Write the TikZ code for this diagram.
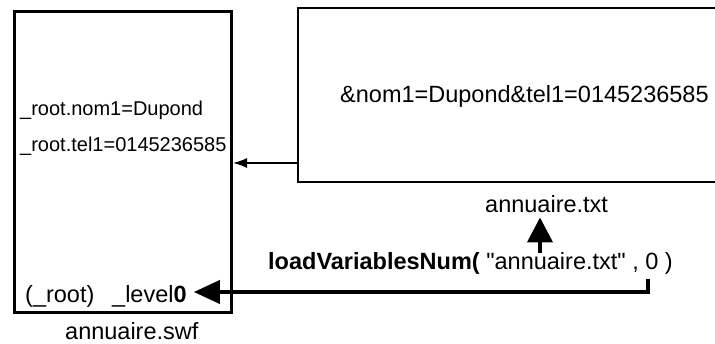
\documentclass[tikz,border=0pt]{standalone}
\usepackage{fontspec}
\setmainfont{Liberation Sans}[Ligatures=TeXOff]
\usetikzlibrary{arrows.meta,calc}
\begin{document}
\begin{tikzpicture}[x=1pt,y=-1pt,
  lbl/.style={inner sep=0pt, anchor=base west, font=\fontsize{23.5}{28}\selectfont},
  smalllbl/.style={inner sep=0pt, anchor=base west, font=\fontsize{20}{24}\selectfont},
  boxnode/.style={draw, inner sep=0pt},
  thinarrow/.style={line width=1.5pt, -{Latex[length=14pt,width=10pt]}},
  thickarrow/.style={line width=4pt}]
\clip (0,0) rectangle (715,344);
\fill[white] (0,0) rectangle (715,344);
% boxes
\node[boxnode, line width=3pt, minimum width=217pt, minimum height=301pt] (swf) at (123,162) {};
\node[boxnode, line width=2pt, minimum width=462pt, minimum height=174pt] (txt) at (528.5,95.5) {};
% texts
\node[smalllbl] (nom) at (20,116) {\_root.nom1=Dupond};
\node[smalllbl] (tel) at (20,152) {\_root.tel1=0145236585};
\node[lbl] (root) at (25,303) {(\_root)};
\node[lbl] (level) at (112,303) {\_level\textbf{0}};
\node[lbl] (swflbl) at (65,339.5) {annuaire.swf};
\node[lbl] (content) at (340,103) {\&nom1=Dupond\&tel1=0145236585};
\node[lbl] (txtlbl) at (485,213) {annuaire.txt};
\node[lbl] (call) at (268,270) {\textbf{loadVariablesNum(} "annuaire.txt" , 0 )};
% connectors
\coordinate (ya) at (0,163);
\draw[thinarrow] (txt.west |- ya) -- (swf.east |- ya);
\coordinate (ax) at (540,0);
\draw[thickarrow, -{Triangle[length=25pt,width=25pt]}] ($(ax |- call.north)$) -- ($(ax |- txtlbl.south)+(0,4)$);
\coordinate (zero) at (648,279);
\coordinate (ly) at (0,292);
\draw[thickarrow, -{Triangle[length=26pt,width=23pt]}] (zero) -- (zero |- ly) -- ($(level.east |- ly)+(7,0)$);
\end{tikzpicture}
\end{document}
